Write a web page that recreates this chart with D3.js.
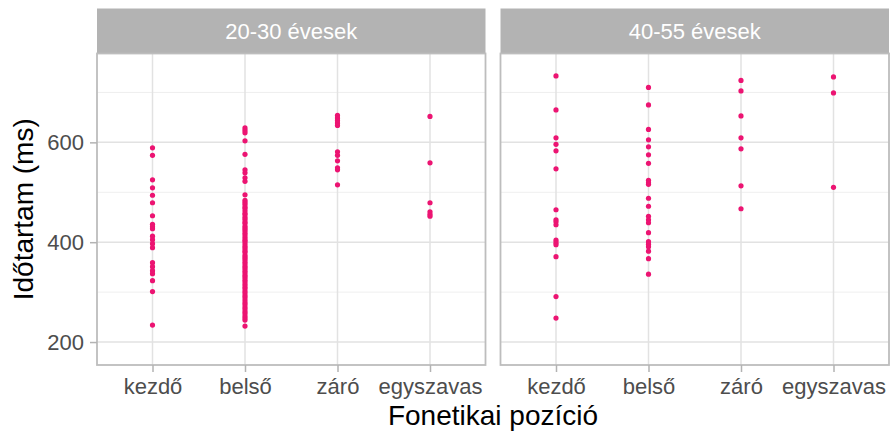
<!DOCTYPE html>
<html>
<head>
<meta charset="utf-8">
<script src="https://cdn.jsdelivr.net/npm/d3@7"></script>
<style>
  body { margin: 0; background: white; }
  text { font-family: "Liberation Sans", Arial, sans-serif; }
</style>
</head>
<body>
<svg id="chart" width="890" height="432"></svg>
<script>
"use strict";

// categories and facets
const positions = ["kezdő", "belső", "záró", "egyszavas"];
const groups = ["20-30 évesek", "40-55 évesek"];
const yTicks = [200, 400, 600];
const yMinor = [300, 500, 700];

// durations (ms)
const young_kezdo = [589, 574, 525, 509, 494, 479, 453, 436, 431, 427, 412, 405, 397, 389, 359, 351, 343, 337, 323, 301, 234];
const young_belso = [629, 624, 619, 603, 576, 545, 539, 529, 522, 495,
  484, 480, 476, 471, 468, 463, 458, 455, 450, 446, 441, 438, 432, 428, 424, 419, 415, 410, 405, 402,
  397, 392, 388, 383, 380, 374, 370, 366, 361, 357, 352, 348, 343, 339, 334, 330, 325, 321, 316, 311,
  307, 302, 298, 293, 289, 284, 279, 275, 270, 266, 261, 257, 252, 248, 244, 232];
const young_zaro = [654, 649, 644, 639, 634, 581, 574, 563, 549, 545, 515];
const young_egy = [652, 559, 479, 461, 456, 452];

const old_kezdo = [733, 665, 609, 596, 583, 547, 465, 445, 441, 435, 404, 399, 395, 371, 291, 248];
const old_belso = [710, 675, 626, 605, 591, 575, 558, 524, 519, 516, 488, 472, 452, 445, 439, 419, 401, 396, 391, 382, 367, 336];
const old_zaro = [724, 703, 653, 609, 587, 513, 467];
const old_egy = [731, 699, 510];

const values = [
  [young_kezdo, young_belso, young_zaro, young_egy],
  [old_kezdo, old_belso, old_zaro, old_egy]
];

const svg = d3.select("#chart");

// layout of the two facets
const stripTop = 8.5, stripH = 45, panelBottom = 365;
const panelX = [97, 500.5], panelW = 388.5;
const pink = "#ec1472";

const y = d3.scaleLinear().domain([154, 778]).range([panelBottom, stripTop + stripH]);

groups.forEach((name, gi) => {
  const x0 = panelX[gi];
  const x = d3.scalePoint().domain(positions).range([x0, x0 + panelW]).padding(0.6);

  const g = svg.append("g");

  // strip header
  g.append("rect")
    .attr("x", x0).attr("y", stripTop)
    .attr("width", panelW).attr("height", stripH)
    .attr("fill", "#b3b3b3");
  g.append("text")
    .attr("x", x0 + panelW / 2).attr("y", stripTop + stripH / 2)
    .attr("dy", "0.36em")
    .attr("text-anchor", "middle")
    .attr("font-size", "22px")
    .attr("fill", "white")
    .text(name);

  // grid
  g.selectAll("line.minor")
    .data(yMinor).enter().append("line")
    .attr("x1", x0).attr("x2", x0 + panelW)
    .attr("y1", d => y(d)).attr("y2", d => y(d))
    .attr("stroke", "#efefef").attr("stroke-width", 1);
  g.selectAll("line.major")
    .data(yTicks).enter().append("line")
    .attr("x1", x0).attr("x2", x0 + panelW)
    .attr("y1", d => y(d)).attr("y2", d => y(d))
    .attr("stroke", "#e2e2e2").attr("stroke-width", 1.5);
  g.selectAll("line.vgrid")
    .data(positions).enter().append("line")
    .attr("x1", d => x(d)).attr("x2", d => x(d))
    .attr("y1", stripTop + stripH).attr("y2", panelBottom)
    .attr("stroke", "#e2e2e2").attr("stroke-width", 1.5);

  // points
  const pts = [];
  positions.forEach((p, pi) => values[gi][pi].forEach(v => pts.push({p: p, v: v})));
  g.selectAll("circle")
    .data(pts).enter().append("circle")
    .attr("cx", d => x(d.p))
    .attr("cy", d => y(d.v))
    .attr("r", 2.6)
    .attr("fill", pink);

  // panel border
  g.append("rect")
    .attr("x", x0).attr("y", stripTop + stripH)
    .attr("width", panelW).attr("height", panelBottom - stripTop - stripH)
    .attr("fill", "none")
    .attr("stroke", "#bdbdbd").attr("stroke-width", 1.8);

  // x axis
  const xAxis = g.append("g")
    .attr("transform", `translate(0,${panelBottom})`)
    .call(d3.axisBottom(x).tickSize(7).tickPadding(6));
  xAxis.select(".domain").remove();
  xAxis.selectAll(".tick line").attr("stroke", "#b3b3b3").attr("stroke-width", 1.5);
  xAxis.selectAll(".tick text")
    .attr("font-size", "22px")
    .attr("font-family", "Liberation Sans, Arial, sans-serif")
    .attr("fill", "#4d4d4d");

  // y axis only on the first panel
  if (gi === 0) {
    const yAxis = g.append("g")
      .attr("transform", `translate(${x0},0)`)
      .call(d3.axisLeft(y).tickValues(yTicks).tickSize(7).tickPadding(6));
    yAxis.select(".domain").remove();
    yAxis.selectAll(".tick line").attr("stroke", "#b3b3b3").attr("stroke-width", 1.5);
    yAxis.selectAll(".tick text")
      .attr("font-size", "22px")
      .attr("font-family", "Liberation Sans, Arial, sans-serif")
      .attr("fill", "#4d4d4d");
  }
});

// axis titles
svg.append("text")
  .attr("x", (panelX[0] + panelX[1] + panelW) / 2)
  .attr("y", 425)
  .attr("text-anchor", "middle")
  .attr("font-size", "28px")
  .attr("fill", "black")
  .text("Fonetikai pozíció");

svg.append("text")
  .attr("transform", `translate(33,${(stripTop + stripH + panelBottom) / 2}) rotate(-90)`)
  .attr("text-anchor", "middle")
  .attr("font-size", "28px")
  .attr("fill", "black")
  .text("Időtartam (ms)");
</script>
</body>
</html>
